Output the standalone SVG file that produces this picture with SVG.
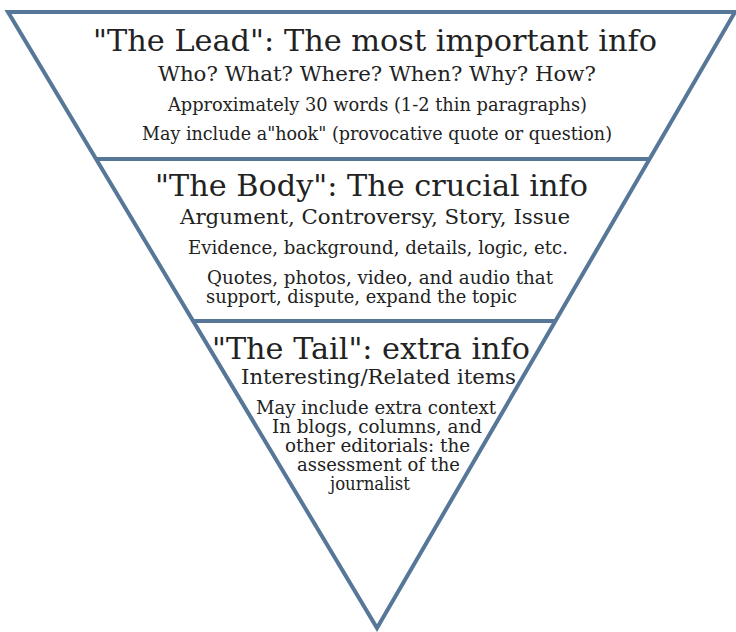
<svg xmlns="http://www.w3.org/2000/svg" width="736" height="632" viewBox="0 0 736 632">
  <style>
    text { font-family: "DejaVu Serif", "Liberation Serif", serif; fill: #222; text-anchor: middle; }
    .h { font-size: 30px; }
    .m { font-size: 21px; }
    .s { font-size: 18px; }
    .l { text-anchor: start; }
    .edge { fill: none; stroke: #567797; stroke-width: 4; stroke-linejoin: miter; }
  </style>
  <rect width="736" height="632" fill="#ffffff"/>
  <!-- inverted pyramid outline with the two section dividers -->
  <g id="connectors">
    <polygon class="edge" points="8,12 735,12 377,628" fill="#ffffff"/>
    <line class="edge" x1="96" y1="159" x2="650" y2="159"/>
    <line class="edge" x1="193" y1="321" x2="555" y2="321"/>
  </g>
  <g id="lead">
    <text class="h" x="375" y="51" textLength="564" lengthAdjust="spacingAndGlyphs">"The Lead": The most important info</text>
    <text class="m" x="377" y="81" textLength="438" lengthAdjust="spacingAndGlyphs">Who? What? Where? When? Why? How?</text>
    <text class="s" x="377.5" y="111" textLength="419" lengthAdjust="spacingAndGlyphs">Approximately 30 words (1-2 thin paragraphs)</text>
    <text class="s" x="377" y="140" textLength="470" lengthAdjust="spacingAndGlyphs">May include a"hook" (provocative quote or question)</text>
  </g>
  <g id="body">
    <text class="h" x="371.5" y="196" textLength="433" lengthAdjust="spacingAndGlyphs">"The Body": The crucial info</text>
    <text class="m" x="375" y="224" textLength="390" lengthAdjust="spacingAndGlyphs">Argument, Controversy, Story, Issue</text>
    <text class="s" x="378" y="254" textLength="380" lengthAdjust="spacingAndGlyphs">Evidence, background, details, logic, etc.</text>
    <text class="s l" x="207" y="284" textLength="346" lengthAdjust="spacingAndGlyphs">Quotes, photos, video, and audio that</text>
    <text class="s l" x="206" y="303" textLength="311" lengthAdjust="spacingAndGlyphs">support, dispute, expand the topic</text>
  </g>
  <g id="tail">
    <text class="h" x="371" y="359" textLength="318" lengthAdjust="spacingAndGlyphs">"The Tail": extra info</text>
    <text class="m" x="378.5" y="384" textLength="275" lengthAdjust="spacingAndGlyphs">Interesting/Related items</text>
    <text class="s" x="376" y="414" textLength="240" lengthAdjust="spacingAndGlyphs">May include extra context</text>
    <text class="s" x="377" y="433" textLength="210" lengthAdjust="spacingAndGlyphs">In blogs, columns, and</text>
    <text class="s" x="377.5" y="452" textLength="185" lengthAdjust="spacingAndGlyphs">other editorials: the</text>
    <text class="s" x="378.5" y="471" textLength="163" lengthAdjust="spacingAndGlyphs">assessment of the</text>
    <text class="s" x="370" y="490" textLength="80" lengthAdjust="spacingAndGlyphs">journalist</text>
  </g>
</svg>
